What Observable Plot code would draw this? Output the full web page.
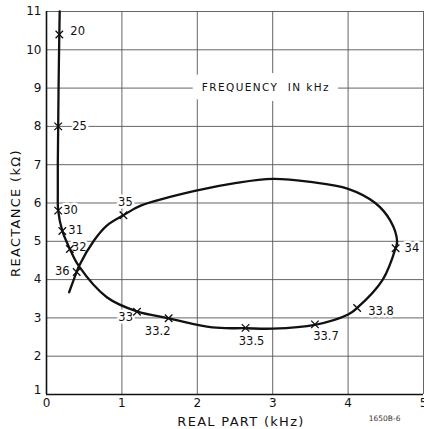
<!DOCTYPE html>
<html>
<head>
<meta charset="utf-8">
<script src="https://cdn.jsdelivr.net/npm/d3@7"></script>
<script src="https://cdn.jsdelivr.net/npm/@observablehq/plot@0.6"></script>
<style>
  html, body { margin: 0; padding: 0; background: #fff; }
  #chart { width: 424px; height: 429px; overflow: hidden; }
</style>
</head>
<body>
<div id="chart"></div>
<script>
// Frequency markers (kHz) with their impedance (real part kHz, reactance kΩ)
const freqLabels = ["20", "25", "30", "31", "32", "33", "33.2", "33.5", "33.7", "33.8", "34", "35", "36"];
const markerReal = [0.17, 0.155, 0.155, 0.21, 0.31, 1.2, 1.62, 2.64, 3.56, 4.12, 4.63, 1.02, 0.40];
const markerReact = [10.4, 8.0, 5.8, 5.27, 4.8, 3.16, 2.99, 2.74, 2.83, 3.26, 4.82, 5.68, 4.2];

// Traced locus of the impedance curve (in frequency order)
const curveReal = [0.175, 0.17, 0.16, 0.155, 0.15, 0.15, 0.155, 0.21, 0.31, 0.43, 0.8, 1.2, 1.62, 2.2, 2.64, 3.0, 3.56, 4.0, 4.12, 4.46, 4.63, 4.65, 4.56, 4.36, 4.0, 3.5, 3.0, 2.5, 2.0, 1.25, 1.02, 0.8, 0.63, 0.43, 0.40, 0.30];
const curveReact = [11.0, 10.4, 9.0, 8.0, 7.0, 6.3, 5.8, 5.27, 4.8, 4.35, 3.54, 3.17, 2.99, 2.75, 2.73, 2.72, 2.82, 3.09, 3.26, 4.0, 4.82, 5.0, 5.54, 6.0, 6.37, 6.55, 6.63, 6.52, 6.33, 5.93, 5.68, 5.41, 5.02, 4.35, 4.2, 3.67];

const xTicks = [0, 1, 2, 3, 4, 5];
const yTicks = [1, 2, 3, 4, 5, 6, 7, 8, 9, 10, 11];

const markers = freqLabels.map((f, i) => ({f, x: markerReal[i], y: markerReact[i]}));
const curve = curveReal.map((x, i) => ({x, y: curveReact[i]}));

// label placement relative to marker (layout only)
const place = {
  "20":   {dx: 11, dy: -3, anchor: "start"},
  "25":   {dx: 14, dy: 0, anchor: "start"},
  "30":   {dx: 5, dy: 0, anchor: "start"},
  "31":   {dx: 6, dy: -1, anchor: "start"},
  "32":   {dx: 2, dy: -2, anchor: "start"},
  "33":   {dx: -4, dy: 6, anchor: "end"},
  "33.2": {dx: -11, dy: 13, anchor: "middle"},
  "33.5": {dx: 6, dy: 13, anchor: "middle"},
  "33.7": {dx: 11, dy: 12, anchor: "middle"},
  "33.8": {dx: 11, dy: 3, anchor: "start"},
  "34":   {dx: 9, dy: 0, anchor: "start"},
  "35":   {dx: 2, dy: -13, anchor: "middle"},
  "36":   {dx: -7, dy: -1, anchor: "end"}
};
const labelMarks = freqLabels.map(f => Plot.text(markers.filter(d => d.f === f), {
  x: "x", y: "y", text: "f",
  dx: place[f].dx, dy: place[f].dy, textAnchor: place[f].anchor,
  fontSize: 11.5, fill: "#111", stroke: "white", strokeWidth: 5
}));

const fmt = d => String(d);

const chart = Plot.plot({
  width: 424,
  height: 429,
  marginLeft: 46,
  marginRight: 1,
  marginTop: 11,
  marginBottom: 35,
  style: {fontFamily: "'DejaVu Sans', sans-serif", fontSize: "11px", background: "white", color: "#111"},
  x: {domain: [0, 5], ticks: xTicks},
  y: {domain: [1, 11], ticks: yTicks},
  marks: [
    Plot.ruleX(xTicks, {stroke: "#555", strokeWidth: 0.9}),
    Plot.ruleY(yTicks, {stroke: "#555", strokeWidth: 0.9}),
    Plot.text(["FREQUENCY  IN kHz"], {x: 2.91, y: 9, fontSize: 10.5, fill: "#111", stroke: "white", strokeWidth: 20}),
    ...labelMarks,
    Plot.ruleX([0], {stroke: "#111", strokeWidth: 1.6}),
    Plot.ruleY([1], {stroke: "#111", strokeWidth: 1.6}),
    Plot.line(curve, {x: "x", y: "y", curve: "catmull-rom", stroke: "#111", strokeWidth: 2.3}),
    Plot.dot(markers, {x: "x", y: "y", symbol: "times", r: 3.5, stroke: "#111", strokeWidth: 1.3}),
    Plot.axisX({ticks: xTicks, tickFormat: fmt, tickSize: 0, tickPadding: 4, label: null, fontSize: 12}),
    Plot.axisY({ticks: yTicks.filter(t => t !== 1), tickFormat: fmt, tickSize: 0, tickPadding: 5, label: null, fontSize: 12}),
    Plot.axisY({ticks: [1], tickFormat: fmt, tickSize: 0, tickPadding: 5, label: null, fontSize: 12, dy: -4}),
    Plot.text(["REAL PART (kHz)"], {frameAnchor: "bottom", lineAnchor: "middle", dx: 6, dy: 27, fontSize: 13, fill: "#111"}),
    Plot.text(["REACTANCE (kΩ)"], {frameAnchor: "left", textAnchor: "middle", lineAnchor: "middle", rotate: -90, dx: -31, dy: 10, fontSize: 13, fill: "#111"}),
    Plot.text(["1650B-6"], {frameAnchor: "bottom-right", dx: -23, dy: 26, fontSize: 7.5, fill: "#333"})
  ]
});
// wide, lettering-style spacing for the annotation texts
d3.select(chart).selectAll("text").each(function() {
  const t = this.textContent;
  if (t === "REAL PART (kHz)" || t === "REACTANCE (kΩ)") d3.select(this).style("letter-spacing", "1.3px");
  if (t === "FREQUENCY  IN kHz") d3.select(this).style("letter-spacing", "1.4px");
});
document.getElementById("chart").appendChild(chart);
</script>
</body>
</html>
